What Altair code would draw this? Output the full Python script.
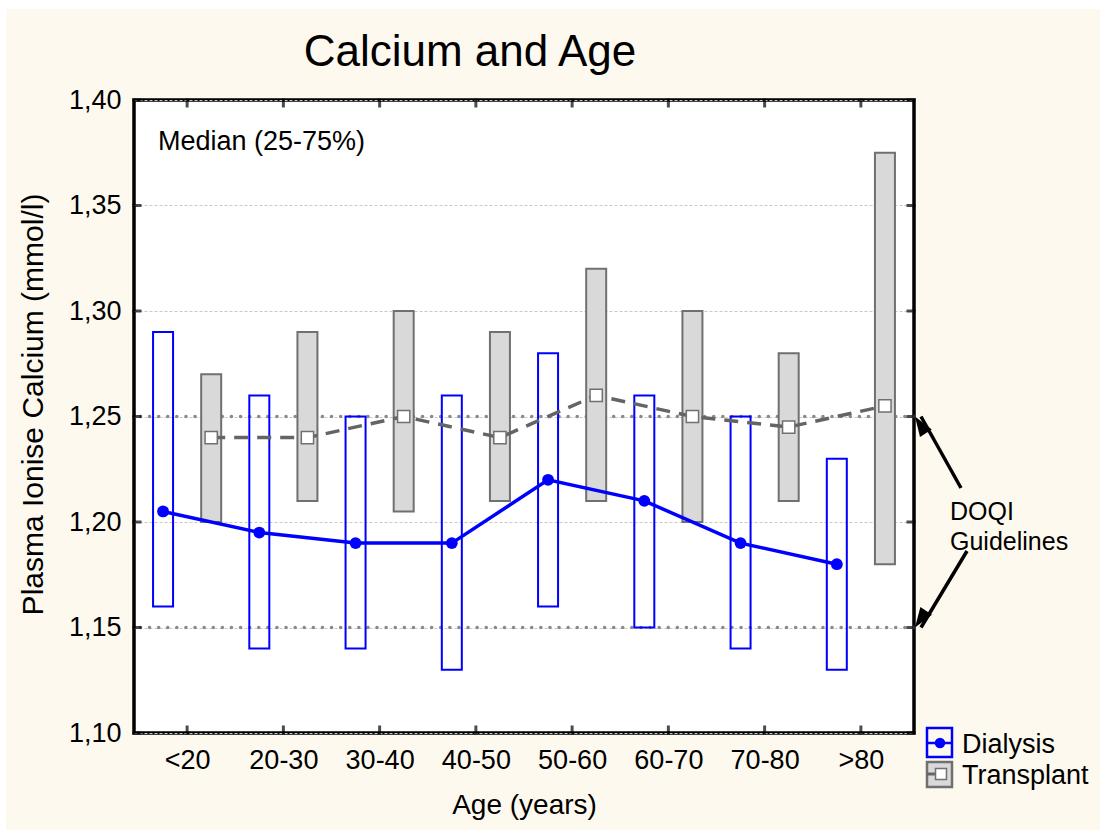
import json
import altair as alt
import pandas as pd

# Age groups and plasma ionised calcium statistics (median, 25th and 75th percentile)
ages = ["<20", "20-30", "30-40", "40-50", "50-60", "60-70", "70-80", ">80"]
dialysis_median = [1.205, 1.195, 1.19, 1.19, 1.22, 1.21, 1.19, 1.18]
dialysis_q1 = [1.16, 1.14, 1.14, 1.13, 1.16, 1.15, 1.14, 1.13]
dialysis_q3 = [1.29, 1.26, 1.25, 1.26, 1.28, 1.26, 1.25, 1.23]
transplant_median = [1.24, 1.24, 1.25, 1.24, 1.26, 1.25, 1.245, 1.255]
transplant_q1 = [1.20, 1.21, 1.205, 1.21, 1.21, 1.20, 1.21, 1.18]
transplant_q3 = [1.27, 1.29, 1.30, 1.29, 1.32, 1.30, 1.28, 1.375]
guidelines = [1.25, 1.15]
y_ticks = [1.10, 1.15, 1.20, 1.25, 1.30, 1.35, 1.40]

FONT = "Liberation Sans"
CREAM = "#FEF9EE"
BLUE = "#0000FF"
GREY = "#646464"
BOX_GREY = "#D9D9D9"
W, H = 780, 633

rows = []
for i, age in enumerate(ages):
    rows.append(dict(age=age, idx=i, series="Dialysis",
                     median=dialysis_median[i], q1=dialysis_q1[i], q3=dialysis_q3[i]))
    rows.append(dict(age=age, idx=i, series="Transplant",
                     median=transplant_median[i], q1=transplant_q1[i], q3=transplant_q3[i]))
df = pd.DataFrame(rows)
guide_df = pd.DataFrame({"g": guidelines})
ytick_df = pd.DataFrame({"median": y_ticks})
xtick_df = pd.DataFrame({"pos": list(range(len(ages)))})

x_scale = alt.Scale(domain=[-0.5, len(ages) - 0.5], nice=False, zero=False)
y_scale = alt.Scale(domain=[1.10, 1.40], nice=False, zero=False)

x_axis = alt.Axis(
    values=list(range(len(ages))),
    labelExpr=json.dumps(ages) + "[datum.value]",
    title="Age (years)",
    grid=False, ticks=False, domain=False,
    labelFont=FONT, labelFontSize=27, labelColor="black", labelPadding=14,
    labelFlush=False,
    titleFont=FONT, titleFontSize=28, titleFontWeight="normal", titleColor="black",
    titlePadding=18,
)
y_axis = alt.Axis(
    values=y_ticks,
    labelExpr="replace(format(datum.value, '.2f'), '.', ',')",
    title="Plasma Ionise Calcium (mmol/l)",
    grid=True, gridColor="#C8C8C8", gridDash=[3, 2], gridWidth=1,
    ticks=False, domain=False,
    labelFont=FONT, labelFontSize=27, labelColor="black", labelPadding=13,
    labelFlush=False,
    titleFont=FONT, titleFontSize=30, titleFontWeight="normal", titleColor="black",
    titlePadding=20, titleY=304,
)

X = alt.X("pos:Q", scale=x_scale, axis=x_axis)


def Y(field):
    return alt.Y(field, scale=y_scale, axis=y_axis)


base = alt.Chart(df).transform_calculate(
    pos="datum.idx + (datum.series === 'Dialysis' ? -0.25 : 0.25)"
)
dial = base.transform_filter(alt.datum.series == "Dialysis")
trans = base.transform_filter(alt.datum.series == "Transplant")

# DOQI guideline levels
guide_rules = alt.Chart(guide_df).mark_rule(
    color="#8A8A8A", strokeWidth=3.5, strokeDash=[0.1, 9], strokeCap="round"
).encode(y=Y("g:Q"))

# interquartile boxes
trans_boxes = trans.mark_bar(size=20, fill=BOX_GREY, stroke="#707070", strokeWidth=2).encode(
    x=X, y=Y("q1:Q"), y2="q3:Q"
)
dial_boxes = dial.mark_bar(size=20, fill=None, fillOpacity=0, stroke=BLUE, strokeWidth=2).encode(
    x=X, y=Y("q1:Q"), y2="q3:Q"
)

# median lines and markers
trans_line = trans.mark_line(color=GREY, strokeWidth=3.5, strokeDash=[14, 9]).encode(
    x=X, y=Y("median:Q"), order="idx:Q"
)
trans_pts = trans.mark_square(size=150, fill="white", stroke="#707070", strokeWidth=1.5, opacity=1).encode(
    x=X, y=Y("median:Q")
)
dial_line = dial.mark_line(color=BLUE, strokeWidth=3.5).encode(
    x=X, y=Y("median:Q"), order="idx:Q"
)
dial_pts = dial.mark_circle(size=140, color=BLUE, opacity=1).encode(
    x=X, y=Y("median:Q")
)

# inward tick marks on all four sides of the frame
TK = dict(color="black", size=9, thickness=3)
ytk_left = alt.Chart(ytick_df).mark_tick(**TK).encode(y=Y("median:Q"), x=alt.value(3))
ytk_right = alt.Chart(ytick_df).mark_tick(**TK).encode(y=Y("median:Q"), x=alt.value(W - 3))
xtk_top = alt.Chart(xtick_df).mark_tick(**TK).encode(x=X, y=alt.value(3))
xtk_bottom = alt.Chart(xtick_df).mark_tick(**TK).encode(x=X, y=alt.value(H - 3))

one = pd.DataFrame({"t": [""]})

# white strips along the outer top/left edge
edge_left = alt.Chart(one).mark_rect(color="white").encode(
    x=alt.value(-134), x2=alt.value(-128), y=alt.value(-100), y2=alt.value(H + 97)
)
edge_top = alt.Chart(one).mark_rect(color="white").encode(
    x=alt.value(-134), x2=alt.value(W + 186), y=alt.value(-100), y2=alt.value(-91)
)


def label(text, x, y, size, align="left", **kw):
    return alt.Chart(pd.DataFrame({"t": [text]})).mark_text(
        font=FONT, fontSize=size, align=align, baseline="middle", color="black", **kw
    ).encode(text="t:N", x=alt.value(x), y=alt.value(y))


title = label("Calcium and Age", 336, -47, 44, align="center")
median_note = label("Median (25-75%)", 24, 42, 27)
doqi_text = alt.Chart(pd.DataFrame({"t": [["DOQI", "Guidelines"]]})).mark_text(
    font=FONT, fontSize=25, align="left", baseline="middle", color="black", lineHeight=30
).encode(text="t:N", x=alt.value(816), y=alt.value(412))

arrow_path = "M0,0 L-0.7,2 L0.7,2 Z"
arrow_up_line = alt.Chart(guide_df).transform_filter(alt.datum.g == 1.25).mark_rule(
    color="black", strokeWidth=3.5
).encode(y=Y("g:Q"), x=alt.value(787), x2=alt.value(827), y2=alt.value(388))
arrow_up_head = alt.Chart(guide_df).transform_filter(alt.datum.g == 1.25).mark_point(
    shape=arrow_path, size=400, filled=True, color="black", opacity=1, angle=327
).encode(y=Y("g:Q"), x=alt.value(781))
arrow_dn_line = alt.Chart(guide_df).transform_filter(alt.datum.g == 1.15).mark_rule(
    color="black", strokeWidth=3.5
).encode(y=Y("g:Q"), x=alt.value(787), x2=alt.value(833), y2=alt.value(451))
arrow_dn_head = alt.Chart(guide_df).transform_filter(alt.datum.g == 1.15).mark_point(
    shape=arrow_path, size=400, filled=True, color="black", opacity=1, angle=214
).encode(y=Y("g:Q"), x=alt.value(781))

# hand-built legend
leg_dial_box = alt.Chart(one).mark_rect(fill=None, fillOpacity=0, stroke=BLUE, strokeWidth=2.5).encode(
    x=alt.value(793), x2=alt.value(818), y=alt.value(628), y2=alt.value(657)
)
leg_dial_line = alt.Chart(one).mark_rule(color=BLUE, strokeWidth=2.5).encode(
    x=alt.value(793), x2=alt.value(818), y=alt.value(643)
)
leg_dial_dot = alt.Chart(one).mark_circle(size=110, color=BLUE, opacity=1).encode(
    x=alt.value(806), y=alt.value(643)
)
leg_trans_box = alt.Chart(one).mark_rect(fill=BOX_GREY, stroke="#707070", strokeWidth=2.5).encode(
    x=alt.value(793), x2=alt.value(818), y=alt.value(662), y2=alt.value(687)
)
leg_trans_line = alt.Chart(one).mark_rule(color=GREY, strokeWidth=3).encode(
    x=alt.value(793), x2=alt.value(803), y=alt.value(674)
)
leg_trans_sq = alt.Chart(one).mark_square(size=120, fill="white", stroke="#707070", strokeWidth=1.5, opacity=1).encode(
    x=alt.value(807), y=alt.value(674)
)
leg_dial_text = label("Dialysis", 828, 645, 27)
leg_trans_text = label("Transplant", 828, 676, 27)

chart = alt.layer(
    guide_rules, trans_boxes, dial_boxes, trans_line, trans_pts, dial_line, dial_pts,
    ytk_left, ytk_right, xtk_top, xtk_bottom,
    edge_left, edge_top, title, median_note, doqi_text,
    arrow_up_line, arrow_up_head, arrow_dn_line, arrow_dn_head,
    leg_dial_box, leg_dial_line, leg_dial_dot,
    leg_trans_box, leg_trans_line, leg_trans_sq, leg_dial_text, leg_trans_text,
).properties(
    width=W, height=H,
    autosize=alt.AutoSizeParams(type="none"),
    padding={"left": 134, "top": 100, "right": 186, "bottom": 97},
    background=CREAM,
).configure_view(
    stroke="black", strokeWidth=3.5, fill="white"
)

chart.save("out.html", embed_options={"renderer": "svg", "actions": False})
